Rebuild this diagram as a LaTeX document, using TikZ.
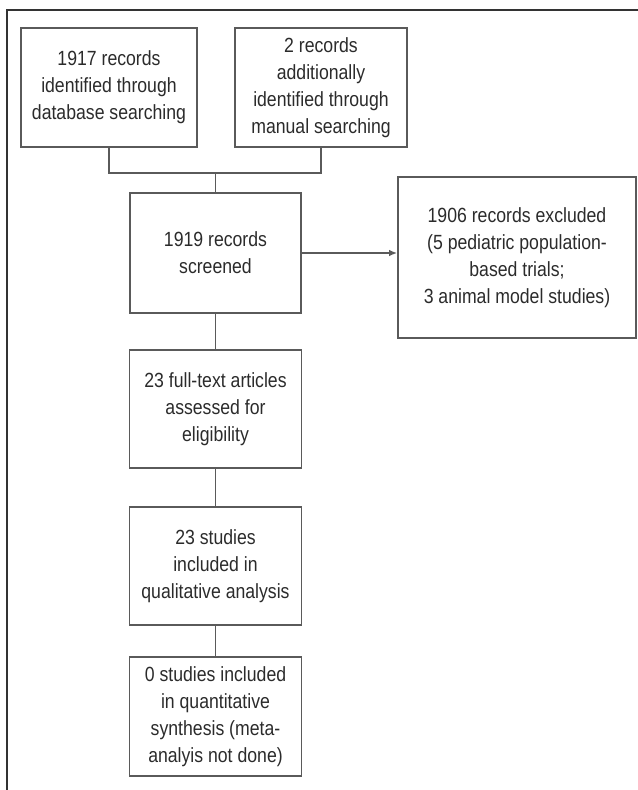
\documentclass[tikz,border=0pt]{standalone}
\usepackage{fontspec}
\setmainfont{Liberation Sans}[FakeStretch=0.86]
\usepackage{xcolor}
\usetikzlibrary{positioning, calc, arrows.meta}

\definecolor{linegray}{HTML}{5A5A5A}
\definecolor{textgray}{HTML}{2B2B2B}

\tikzset{
    flowbox/.style={draw=linegray, line width=1.3pt, align=center, text=textgray,
        minimum width=129pt, minimum height=89pt, inner sep=2pt,
        font=\fontsize{15.4}{20.3}\selectfont},
    link/.style={draw=linegray, line width=1.3pt}
}

\begin{document}
\begin{tikzpicture}[x=0.75pt, y=-0.75pt]

    \useasboundingbox (0,0) rectangle (638,790);

    % --- OUTER FRAME (cropped) ---
    \draw[line width=0.8pt, black!80] (7,790) -- (7,10) -- (638,10);

    % --- IDENTIFICATION ---
    \node[flowbox, minimum width=132pt] (db) at (109,87.5)
        {1917 records\\identified through\\database searching};
    \node[flowbox] (manual) at (321,87.5)
        {2 records\\additionally\\identified through\\manual searching};

    % --- SCREENING ---
    \node[flowbox, minimum width=128pt, minimum height=90pt] (screened) at (215.5,253)
        {1919 records\\screened};
    \node[flowbox, minimum width=178.5pt, minimum height=120.75pt] (excluded) at (517,257.5)
        {1906 records excluded\\(5 pediatric population-\\based trials;\\3 animal model studies)};

    % --- ELIGIBILITY AND INCLUSION ---
    \node[flowbox, minimum height=88.5pt] (fulltext) at (215.5,409)
        {23 full-text articles\\assessed for\\eligibility};
    \node[flowbox, minimum height=88.5pt] (qualit) at (215.5,566)
        {23 studies\\included in\\qualitative analysis};
    \node[flowbox] (quantit) at (215.5,716.5)
        {0 studies included\\in quantitative\\synthesis (meta-\\analyis not done)};

    % --- CONNECTORS ---
    \coordinate (join) at (215.5,173);
    \draw[link] (db.south) |- (join) -| (manual.south);
    \draw[link] (join) -- (screened.north);
    \draw[link, -{Latex[length=6pt, width=5pt]}] (screened.east) -- (screened.east -| excluded.west);
    \draw[link] (screened.south) -- (fulltext.north);
    \draw[link] (fulltext.south) -- (qualit.north);
    \draw[link] (qualit.south) -- (quantit.north);

\end{tikzpicture}
\end{document}
